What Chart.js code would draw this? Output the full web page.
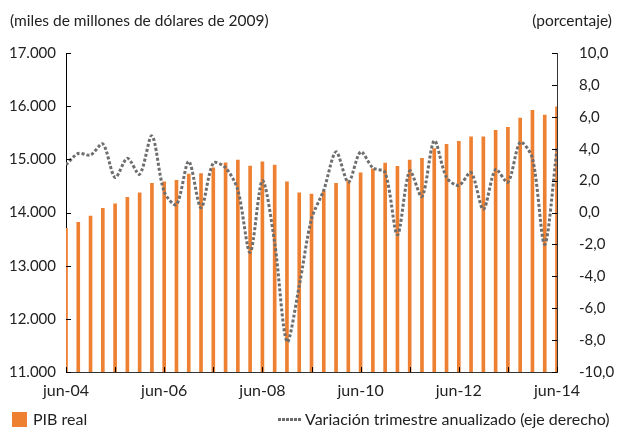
<!DOCTYPE html>
<html>
<head>
<meta charset="utf-8">
<script src="https://cdn.jsdelivr.net/npm/chart.js@4"></script>
<style>
  html, body { margin: 0; padding: 0; background: #fff; }
  #wrap { position: relative; width: 617px; height: 428px; font-family: Lato, "Open Sans", sans-serif; color: #222; }
  #c { position: absolute; left: 0; top: 0; }
  .t { position: absolute; white-space: nowrap; line-height: 18px; }
  .sw { position: absolute; width: 15px; height: 15px; background: #EE8032; }
  .dots { position: absolute; height: 3px; width: 24px;
          background: repeating-linear-gradient(90deg, #6b6b6b 0 3px, transparent 3px 4px); }
</style>
</head>
<body>
<div id="wrap">
  <canvas id="c" width="617" height="428"></canvas>
  <div class="t" style="left:10px; top:11px; font-size:15.5px;">(miles de millones de dólares de 2009)</div>
  <div class="t" style="right:5px; top:11px; font-size:15.5px;">(porcentaje)</div>
  <div class="sw" style="left:12px; top:412px;"></div>
  <div class="t" style="left:33px; top:410px; font-size:16px;">PIB real</div>
  <div class="dots" style="left:278px; top:418px;"></div>
  <div class="t" style="left:305px; top:410px; font-size:16px;">Variación trimestre anualizado (eje derecho)</div>
</div>
<script>
// Quarterly data, jun-04 .. jun-14
const quarters = [
  "jun-04","sep-04","dic-04","mar-05","jun-05","sep-05","dic-05","mar-06",
  "jun-06","sep-06","dic-06","mar-07","jun-07","sep-07","dic-07","mar-08",
  "jun-08","sep-08","dic-08","mar-09","jun-09","sep-09","dic-09","mar-10",
  "jun-10","sep-10","dic-10","mar-11","jun-11","sep-11","dic-11","mar-12",
  "jun-12","sep-12","dic-12","mar-13","jun-13","sep-13","dic-13","mar-14","jun-14"
];
// PIB real (miles de millones de dólares de 2009)
const pibReal = [
  13703, 13816, 13934, 14079, 14165, 14285, 14372, 14548,
  14579, 14604, 14723, 14730, 14841, 14935, 14985, 14873,
  14954, 14891, 14579, 14372, 14347, 14402, 14548, 14600,
  14748, 14820, 14930, 14870, 14985, 15017, 15200, 15280,
  15340, 15423, 15425, 15545, 15600, 15775, 15920, 15834, 15986
];
// Variación trimestral anualizada (%)
const variacion = [
  3.0, 3.7, 3.6, 4.3, 2.2, 3.4, 2.4, 4.8,
  1.3, 0.5, 3.2, 0.3, 3.1, 2.8, 1.4, -2.5,
  2.0, -1.9, -8.1, -4.6, -0.4, 1.4, 3.8, 1.9,
  3.8, 2.8, 2.5, -1.4, 2.6, 1.0, 4.5, 2.2,
  1.7, 2.5, 0.2, 2.7, 1.9, 4.4, 3.4, -2.0, 4.0
];
const xTickLabels = ["jun-04","jun-06","jun-08","jun-10","jun-12","jun-14"];
const leftTicks = [11000, 12000, 13000, 14000, 15000, 16000, 17000];
const rightTicks = [-10, -8, -6, -4, -2, 0, 2, 4, 6, 8, 10];

const barPts = pibReal.map((v, i) => ({ x: i, y: v }));
const linePts = variacion.map((v, i) => ({ x: i, y: v }));

const FONT = { family: 'Lato, "Open Sans", sans-serif', size: 15 };
const XFONT = { family: 'Lato, "Open Sans", sans-serif', size: 16 };

const inwardTicks = {
  id: 'inwardTicks',
  afterDatasetsDraw(chart) {
    const ctx = chart.ctx;
    const { left, right, bottom } = chart.chartArea;
    ctx.save();
    ctx.strokeStyle = '#000';
    ctx.lineWidth = 1;
    const yl = chart.scales.y, yr = chart.scales.y2, x = chart.scales.x;
    leftTicks.forEach(v => {
      const p = Math.round(yl.getPixelForValue(v)) + 0.5;
      ctx.beginPath(); ctx.moveTo(left, p); ctx.lineTo(left + 5, p); ctx.stroke();
    });
    rightTicks.forEach(v => {
      const p = Math.round(yr.getPixelForValue(v)) + 0.5;
      ctx.beginPath(); ctx.moveTo(right, p); ctx.lineTo(right - 5, p); ctx.stroke();
    });
    for (let i = 0; i < quarters.length; i += 4) {
      const p = Math.round(x.getPixelForValue(i)) + 0.5;
      ctx.beginPath(); ctx.moveTo(p, bottom); ctx.lineTo(p, bottom - 5); ctx.stroke();
    }
    ctx.restore();
  }
};

new Chart(document.getElementById('c'), {
  data: {
    datasets: [
      {
        type: 'line',
        label: 'Variación trimestre anualizado (eje derecho)',
        data: linePts,
        yAxisID: 'y2',
        borderColor: '#6e6e6e',
        borderWidth: 3,
        borderDash: [3, 2],
        pointRadius: 0,
        tension: 0.3,
        fill: false,
        order: 0
      },
      {
        type: 'bar',
        label: 'PIB real',
        data: barPts,
        yAxisID: 'y',
        backgroundColor: '#EE8032',
        borderWidth: 0,
        barThickness: 3,
        order: 1
      }
    ]
  },
  plugins: [inwardTicks],
  options: {
    responsive: false,
    animation: false,
    devicePixelRatio: 1,
    layout: { padding: { top: 53, left: 0, right: 0, bottom: 0 } },
    plugins: { legend: { display: false }, tooltip: { enabled: false } },
    scales: {
      x: {
        type: 'linear',
        offset: false,
        min: 0, max: quarters.length - 1,
        afterFit(s) { s.height = 56; },
        afterBuildTicks(s) {
          s.ticks = xTickLabels.map(l => ({ value: quarters.indexOf(l) }));
        },
        ticks: {
          autoSkip: false, maxRotation: 0, padding: 9,
          color: '#222', font: XFONT,
          callback: (v) => quarters[v]
        },
        grid: { display: false, drawTicks: false, offset: false },
        border: { display: true, color: '#333', width: 1 }
      },
      y: {
        position: 'left',
        min: 11000, max: 17000,
        afterFit(s) { s.width = 66; },
        afterBuildTicks(s) { s.ticks = leftTicks.map(v => ({ value: v })); },
        ticks: {
          padding: 10, color: '#222', font: FONT,
          callback: (v) => v.toLocaleString('de-DE')
        },
        grid: { display: false, drawTicks: false },
        border: { display: true, color: '#000', width: 1 }
      },
      y2: {
        position: 'right',
        min: -10, max: 10,
        afterFit(s) { s.width = 60; },
        afterBuildTicks(s) { s.ticks = rightTicks.map(v => ({ value: v })); },
        ticks: {
          padding: 22, color: '#222', font: FONT,
          callback: (v) => v.toFixed(1).replace('.', ',')
        },
        grid: { display: false, drawTicks: false },
        border: { display: true, color: '#333', width: 1 }
      }
    }
  }
});
</script>
</body>
</html>
